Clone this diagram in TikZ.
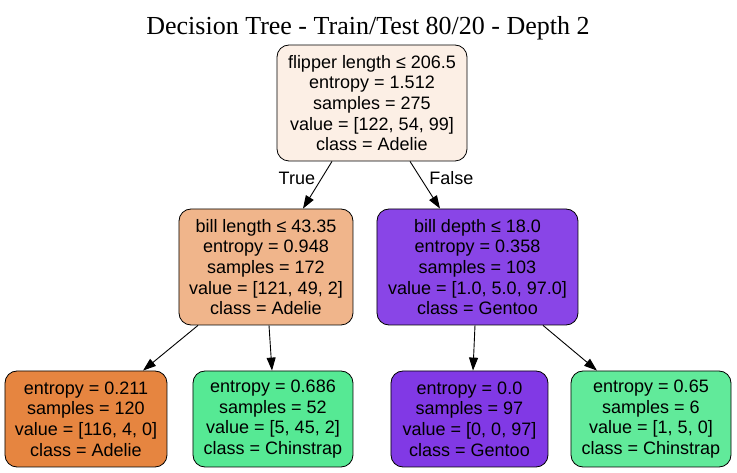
\documentclass[tikz,border=0pt]{standalone}
\usepackage{fontspec}
\usepackage{xcolor}
\usepackage{tikz}
\usetikzlibrary{arrows.meta, positioning}
\setmainfont{Liberation Serif}
\newfontfamily\boxfont{Liberation Sans}

\definecolor{rootfill}{HTML}{FCEFE5}
\definecolor{blfill}{HTML}{F0B58B}
\definecolor{bdfill}{HTML}{8945E7}
\definecolor{adelie}{HTML}{E68540}
\definecolor{chinA}{HTML}{56E994}
\definecolor{gentoo}{HTML}{8139E5}
\definecolor{chinB}{HTML}{61EA9A}

\begin{document}
\begin{tikzpicture}[auto, on grid, node distance=164pt,
    treenode/.style={draw=black, line width=0.8pt, rounded corners=12pt, align=center,
      font=\boxfont\fontsize{18}{20.7}\selectfont, inner sep=0pt},
    split/.style={treenode, minimum height=116pt},
    leaf/.style={treenode, minimum height=96pt},
    every edge/.style={draw, line width=0.9pt, -{Triangle[length=13pt,width=9pt]}}]
      \useasboundingbox (-372pt,103pt) rectangle (365pt,-370pt);

      \node[split, fill=rootfill, minimum width=190pt] (root) at (0,0)
        {flipper length ≤ 206.5\\entropy = 1.512\\samples = 275\\value = [122, 54, 99]\\class = Adelie};
      \node (title) [above=75pt of root, xshift=-4pt]
        {\fontsize{26}{30}\selectfont Decision Tree - Train/Test 80/20 - Depth 2};

      \node[split, fill=blfill, minimum width=174pt] (billlen) [below left=164pt and 106pt of root]
        {bill length ≤ 43.35\\entropy = 0.948\\samples = 172\\value = [121, 49, 2]\\class = Adelie};
      \node[split, fill=bdfill, minimum width=201pt] (billdep) [below right=164pt and 105.5pt of root]
        {bill depth ≤ 18.0\\entropy = 0.358\\samples = 103\\value = [1.0, 5.0, 97.0]\\class = Gentoo};

      \node[leaf, fill=adelie, minimum width=162pt] (leafA) [below left=152pt and 180pt of billlen]
        {entropy = 0.211\\samples = 120\\value = [116, 4, 0]\\class = Adelie};
      \node[leaf, fill=chinA, minimum width=160pt] (leafB) [below right=152pt and 7pt of billlen]
        {entropy = 0.686\\samples = 52\\value = [5, 45, 2]\\class = Chinstrap};
      \node[leaf, fill=gentoo, minimum width=157pt] (leafC) [below left=152pt and 8pt of billdep]
        {entropy = 0.0\\samples = 97\\value = [0, 0, 97]\\class = Gentoo};
      \node[leaf, fill=chinB, minimum width=160pt] (leafD) [below right=152pt and 173.5pt of billdep]
        {entropy = 0.65\\samples = 6\\value = [1, 5, 0]\\class = Chinstrap};

      \path
        ([xshift=-40pt]root.south) edge node[swap, pos=0.35, left=3pt, font=\boxfont\fontsize{18}{20}\selectfont] {True} ([xshift=37pt]billlen.north)
        ([xshift=38pt]root.south)  edge node[pos=0.35, right=5pt, font=\boxfont\fontsize{18}{20}\selectfont] {False} ([xshift=-37.5pt]billdep.north)
        ([xshift=-68pt]billlen.south) edge ([xshift=57pt]leafA.north)
        ([xshift=3pt]billlen.south)   edge ([xshift=-1pt]leafB.north)
        ([xshift=-2.5pt]billdep.south) edge ([xshift=3.5pt]leafC.north)
        ([xshift=65.5pt]billdep.south) edge ([xshift=-54pt]leafD.north);
\end{tikzpicture}
\end{document}
